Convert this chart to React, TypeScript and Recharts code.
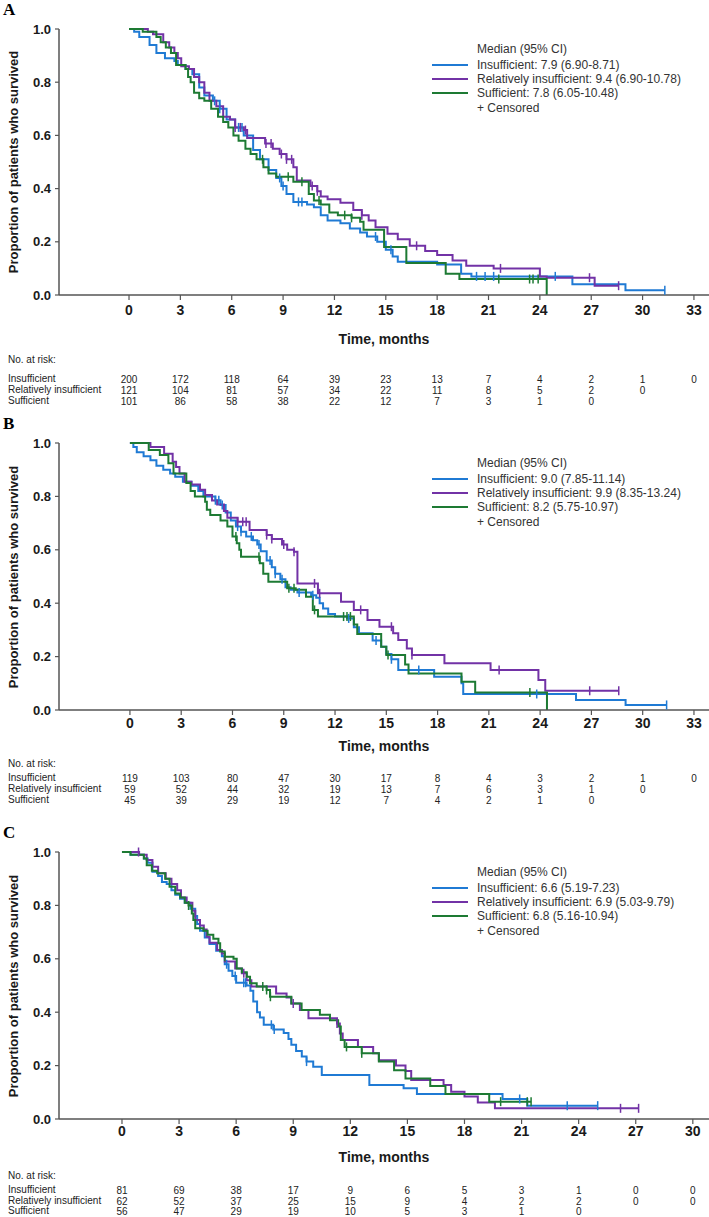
import React from 'react'
import { LineChart, Line, XAxis, YAxis } from 'recharts'

type Pt = [number, number]

const BLUE = '#1f7ad4'
const PURPLE = '#7232a6'
const GREEN = '#1d7a33'
const AXIS = '#555'
const SANS = '"Liberation Sans", Arial, sans-serif'

const TICKS_AB = [0, 3, 6, 9, 12, 15, 18, 21, 24, 27, 30, 33]
const TICKS_C = [0, 3, 6, 9, 12, 15, 18, 21, 24, 27, 30]
const Y_TICKS = [0, 0.2, 0.4, 0.6, 0.8, 1]
const GROUPS = ['Insufficient', 'Relatively insufficient', 'Sufficient']

// ---------- panel A ----------
const insA: Pt[] = [
  [0, 1], [0.3, 0.99], [0.6, 0.97], [1.2, 0.94], [1.6, 0.91], [2.1, 0.89], [2.65, 0.88],
  [2.85, 0.865], [3.3, 0.85], [3.7, 0.83], [4.1, 0.78], [4.4, 0.75], [4.9, 0.73], [5.3, 0.7],
  [5.7, 0.66], [6.2, 0.63], [6.7, 0.6], [7.25, 0.545], [7.65, 0.51], [8.15, 0.47], [8.6, 0.44],
  [8.9, 0.41], [9.2, 0.38], [9.6, 0.35], [10.4, 0.34], [10.8, 0.33], [11.2, 0.3], [11.6, 0.28],
  [12.35, 0.27], [12.9, 0.25], [13.5, 0.235], [13.9, 0.22], [14.5, 0.2], [15.0, 0.17],
  [15.4, 0.145], [15.7, 0.125], [18.0, 0.115], [19.4, 0.08], [20.0, 0.07], [25.9, 0.04],
  [29.0, 0.018], [31.3, 0.018],
]
const insCensA = [5.0, 5.3, 6.4, 6.6, 8.8, 9.0, 9.9, 10.1, 14.4, 15.3, 20.3, 20.8, 21.3, 24.9, 31.3]
const relA: Pt[] = [
  [0, 1], [1.1, 0.99], [1.4, 0.98], [2.0, 0.95], [2.35, 0.93], [2.65, 0.91], [2.85, 0.89],
  [3.05, 0.86], [3.5, 0.85], [3.8, 0.82], [4.1, 0.8], [4.4, 0.76], [4.7, 0.73], [5.1, 0.71],
  [5.5, 0.67], [5.9, 0.66], [6.2, 0.63], [6.7, 0.62], [6.9, 0.59], [7.95, 0.57], [8.4, 0.55],
  [8.8, 0.53], [9.2, 0.51], [9.6, 0.48], [9.8, 0.43], [10.6, 0.41], [11.0, 0.39], [11.2, 0.37],
  [11.6, 0.36], [12.35, 0.347], [13.1, 0.32], [13.6, 0.3], [14.0, 0.28], [14.4, 0.255],
  [15.1, 0.23], [15.7, 0.21], [16.4, 0.185], [17.3, 0.165], [18.0, 0.15], [18.9, 0.13],
  [19.7, 0.11], [21.3, 0.1], [24.0, 0.07], [24.4, 0.065], [27.2, 0.035], [28.6, 0.035],
]
const relCensA = [6.2, 6.5, 6.8, 8.0, 8.3, 8.9, 9.2, 9.5, 10.7, 11.0, 13.6, 16.8, 21.7, 26.9, 28.6]
const sufA: Pt[] = [
  [0, 1], [0.8, 0.99], [1.6, 0.97], [1.85, 0.95], [2.15, 0.93], [2.45, 0.91], [2.75, 0.865],
  [3.3, 0.85], [3.45, 0.82], [3.6, 0.8], [3.8, 0.76], [4.1, 0.74], [4.4, 0.73], [4.8, 0.7],
  [5.2, 0.67], [5.5, 0.65], [5.8, 0.63], [6.1, 0.6], [6.4, 0.58], [6.8, 0.55], [7.1, 0.53],
  [7.45, 0.51], [7.85, 0.48], [8.15, 0.457], [8.6, 0.445], [9.6, 0.426], [10.5, 0.38],
  [10.8, 0.355], [11.2, 0.34], [11.7, 0.31], [12.2, 0.3], [13.0, 0.29], [13.5, 0.275],
  [13.7, 0.245], [14.9, 0.18], [16.2, 0.12], [18.5, 0.08], [19.3, 0.06], [24.4, 0],
]
const sufCensA = [7.8, 9.3, 10.1, 11.1, 12.6, 13.0, 21.6, 23.4, 23.6, 23.9]
const riskInsA = [200, 172, 118, 64, 39, 23, 13, 7, 4, 2, 1, 0]
const riskRelA = [121, 104, 81, 57, 34, 22, 11, 8, 5, 2, 0]
const riskSufA = [101, 86, 58, 38, 22, 12, 7, 3, 1, 0]
const legendA = [
  'Insufficient: 7.9 (6.90-8.71)',
  'Relatively insufficient: 9.4 (6.90-10.78)',
  'Sufficient: 7.8 (6.05-10.48)',
]

// ---------- panel B ----------
const insB: Pt[] = [
  [0, 1], [0.2, 0.985], [0.4, 0.965], [0.8, 0.95], [1.2, 0.935], [1.55, 0.915], [1.95, 0.9],
  [2.35, 0.886], [2.65, 0.874], [3.1, 0.855], [3.6, 0.84], [4.0, 0.82], [4.3, 0.8], [5.0, 0.786],
  [5.3, 0.768], [5.6, 0.74], [5.9, 0.71], [6.2, 0.687], [6.5, 0.668], [6.8, 0.65], [7.2, 0.636],
  [7.45, 0.62], [7.65, 0.595], [8.0, 0.56], [8.3, 0.535], [8.5, 0.51], [8.8, 0.49], [9.1, 0.46],
  [9.4, 0.45], [9.8, 0.44], [10.6, 0.43], [10.9, 0.42], [11.1, 0.4], [11.3, 0.38], [11.6, 0.36],
  [12.0, 0.35], [12.7, 0.343], [13.1, 0.31], [13.4, 0.287], [14.2, 0.26], [14.7, 0.237],
  [15.0, 0.21], [15.3, 0.19], [15.7, 0.15], [17.8, 0.125], [19.4, 0.1], [19.5, 0.06],
  [26.1, 0.037], [29.0, 0.019], [31.4, 0.019],
]
const insCensB = [5.0, 5.2, 5.4, 6.3, 6.5, 7.1, 7.55, 8.2, 8.5, 8.9, 9.9, 10.7, 12.8, 14.4, 15.3, 16.9, 23.8, 31.4]
const relB: Pt[] = [
  [0, 1], [1.2, 0.985], [2.0, 0.96], [2.5, 0.93], [2.7, 0.91], [2.9, 0.886], [3.2, 0.855],
  [3.6, 0.845], [4.1, 0.825], [4.4, 0.805], [4.8, 0.785], [5.1, 0.77], [5.5, 0.745], [5.7, 0.72],
  [6.3, 0.705], [7.0, 0.674], [8.0, 0.655], [8.3, 0.64], [8.9, 0.62], [9.2, 0.6], [9.6, 0.593],
  [9.8, 0.474], [11.0, 0.437], [12.35, 0.405], [13.1, 0.375], [13.9, 0.337], [14.6, 0.312],
  [15.4, 0.287], [15.7, 0.262], [16.2, 0.23], [16.5, 0.206], [18.4, 0.175], [21.1, 0.15],
  [23.9, 0.112], [24.3, 0.072], [28.6, 0.072],
]
const relCensB = [6.3, 6.6, 6.8, 8.0, 8.3, 9.0, 9.6, 10.8, 11.1, 13.5, 15.3, 16.5, 21.6, 26.9, 28.6]
const sufB: Pt[] = [
  [0, 1], [1.1, 0.974], [1.75, 0.955], [2.25, 0.924], [2.55, 0.886], [3.3, 0.85], [3.55, 0.82],
  [3.8, 0.8], [4.4, 0.78], [4.5, 0.75], [4.7, 0.73], [5.3, 0.71], [5.7, 0.687], [6.0, 0.65],
  [6.25, 0.625], [6.4, 0.6], [6.5, 0.574], [7.6, 0.55], [7.8, 0.51], [8.1, 0.48], [9.2, 0.456],
  [9.7, 0.45], [10.3, 0.424], [10.7, 0.375], [11.0, 0.35], [13.1, 0.32], [13.3, 0.285],
  [14.7, 0.237], [15.0, 0.206], [16.1, 0.17], [16.3, 0.137], [19.4, 0.106], [20.2, 0.066],
  [24.4, 0],
]
const sufCensB = [6.2, 7.55, 9.3, 9.6, 10.8, 12.5, 12.7, 12.9, 15.1, 23.4]
const riskInsB = [119, 103, 80, 47, 30, 17, 8, 4, 3, 2, 1, 0]
const riskRelB = [59, 52, 44, 32, 19, 13, 7, 6, 3, 1, 0]
const riskSufB = [45, 39, 29, 19, 12, 7, 4, 2, 1, 0]
const legendB = [
  'Insufficient: 9.0 (7.85-11.14)',
  'Relatively insufficient: 9.9 (8.35-13.24)',
  'Sufficient: 8.2 (5.75-10.97)',
]

// ---------- panel C ----------
const insC: Pt[] = [
  [0, 1], [0.45, 0.99], [1.15, 0.976], [1.35, 0.96], [1.6, 0.926], [1.9, 0.91], [2.1, 0.888],
  [2.35, 0.88], [2.6, 0.857], [2.8, 0.84], [3.05, 0.825], [3.3, 0.81], [3.6, 0.787], [3.85, 0.76],
  [3.95, 0.73], [4.1, 0.705], [4.35, 0.68], [4.6, 0.655], [4.95, 0.63], [5.25, 0.61], [5.4, 0.58],
  [5.6, 0.555], [5.8, 0.536], [6.0, 0.51], [6.55, 0.5], [6.75, 0.48], [6.9, 0.44], [7.1, 0.4],
  [7.25, 0.38], [7.45, 0.353], [7.95, 0.335], [8.5, 0.322], [8.75, 0.3], [8.9, 0.278],
  [9.15, 0.255], [9.45, 0.234], [9.7, 0.215], [10.05, 0.196], [10.5, 0.165], [13.0, 0.127],
  [14.8, 0.115], [15.5, 0.094], [20.0, 0.075], [21.3, 0.05], [25.0, 0.05],
]
const insCensC = [5.5, 5.95, 6.4, 6.5, 7.85, 8.0, 9.7, 20.9, 23.4, 25.0]
const relC: Pt[] = [
  [0, 1], [0.9, 0.99], [1.3, 0.97], [1.6, 0.945], [1.9, 0.92], [2.3, 0.9], [2.6, 0.88],
  [2.9, 0.857], [3.1, 0.83], [3.4, 0.81], [3.7, 0.78], [3.85, 0.745], [4.1, 0.725], [4.3, 0.71],
  [4.45, 0.683], [4.6, 0.66], [5.0, 0.633], [5.25, 0.62], [5.4, 0.59], [5.95, 0.564],
  [6.3, 0.546], [6.55, 0.52], [6.8, 0.496], [8.1, 0.47], [8.65, 0.455], [8.9, 0.433],
  [9.35, 0.408], [9.8, 0.377], [11.3, 0.358], [11.45, 0.32], [11.6, 0.296], [12.4, 0.27],
  [13.2, 0.246], [13.5, 0.22], [14.4, 0.2], [14.9, 0.18], [15.2, 0.146], [16.9, 0.127],
  [17.3, 0.102], [18.0, 0.084], [18.7, 0.062], [19.6, 0.04], [27.15, 0.04],
]
const relCensC = [0.87, 6.4, 9.0, 11.3, 26.2, 27.15]
const sufC: Pt[] = [
  [0, 1], [0.45, 0.99], [1.15, 0.976], [1.3, 0.95], [1.57, 0.93], [1.85, 0.92], [2.27, 0.9],
  [2.5, 0.87], [2.8, 0.845], [3.06, 0.83], [3.3, 0.81], [3.5, 0.8], [3.67, 0.77], [3.75, 0.745],
  [3.85, 0.714], [4.28, 0.705], [4.5, 0.69], [4.8, 0.675], [5.07, 0.658], [5.16, 0.627],
  [5.4, 0.608], [5.86, 0.6], [6.03, 0.564], [6.3, 0.55], [6.56, 0.533], [6.73, 0.508],
  [7.08, 0.496], [7.6, 0.483], [7.78, 0.458], [8.9, 0.433], [9.44, 0.408], [10.4, 0.39],
  [10.93, 0.37], [11.36, 0.346], [11.5, 0.296], [11.7, 0.27], [12.6, 0.246], [13.5, 0.215],
  [14.3, 0.183], [14.9, 0.152], [16.2, 0.124], [17.0, 0.094], [19.3, 0.065], [21.5, 0.065],
]
const sufCensC = [3.5, 5.4, 7.4, 7.6, 7.8, 11.8, 12.6, 19.9, 21.3, 21.5]
const riskInsC = [81, 69, 38, 17, 9, 6, 5, 3, 1, 0, 0]
const riskRelC = [62, 52, 37, 25, 15, 9, 4, 2, 2, 0, 0]
const riskSufC = [56, 47, 29, 19, 10, 5, 3, 1, 0]
const legendC = [
  'Insufficient: 6.6 (5.19-7.23)',
  'Relatively insufficient: 6.9 (5.03-9.79)',
  'Sufficient: 6.8 (5.16-10.94)',
]

// merge step points and censor marks into one series
function kmData(steps: Pt[], cens: number[]) {
  const pts: { t: number; s: number; c?: boolean }[] = steps.map(([t, s]) => ({ t, s }))
  cens.forEach((ct) => {
    let lvl = steps[0][1]
    steps.forEach(([t, s]) => {
      if (t <= ct) lvl = s
    })
    pts.push({ t: ct, s: lvl, c: true })
  })
  return pts.sort((a, b) => a.t - b.t)
}

const censorDot = (color: string) => (p: any) => {
  const { cx, cy, payload, index } = p
  if (!payload || !payload.c || cx == null) return <g key={index} />
  return <line key={index} x1={cx} x2={cx} y1={cy - 4.5} y2={cy + 4.5} stroke={color} strokeWidth={1.5} />
}

interface PanelProps {
  letter: string
  top: number
  height: number
  plotTop: number
  plotBottom: number
  domain: [number, number]
  ticks: number[]
  series: { data: Pt[]; cens: number[]; color: string }[]
  risk: number[][]
  legend: string[]
  tickDy: number
  timeDy: number
  headDy: number
  rowDy: number[]
}

function Txt({ x, y, children, style, center }: any) {
  return (
    <div
      style={{
        position: 'absolute',
        left: x,
        top: y,
        transform: center ? 'translate(-50%, -50%)' : 'translateY(-50%)',
        whiteSpace: 'nowrap',
        lineHeight: 1,
        pointerEvents: 'none',
        ...style,
      }}
    >
      {children}
    </div>
  )
}

function Panel(props: PanelProps) {
  const { letter, top, height, plotTop, plotBottom, domain, ticks, series, risk, legend } = props
  const axisY = plotBottom - top
  const xAxisHeight = height - axisY

  const renderTick = (p: any) => {
    const { x, payload } = p
    const i = ticks.indexOf(payload.value)
    return (
      <g>
        <text
          x={x}
          y={axisY + props.tickDy}
          textAnchor="middle"
          dominantBaseline="central"
          fill="#1a1a1a"
          style={{ fontFamily: SANS, fontSize: 14, fontWeight: 'bold' }}
        >
          {payload.value}
        </text>
        {risk.map((row, r) =>
          row[i] === undefined ? null : (
            <text
              key={r}
              x={x}
              y={axisY + props.rowDy[r]}
              textAnchor="middle"
              dominantBaseline="central"
              fill="#222"
              style={{ fontFamily: SANS, fontSize: 10 }}
            >
              {row[i]}
            </text>
          ),
        )}
      </g>
    )
  }

  const lt = plotTop - top
  const legendRows = [20, 36, 50, 64, 79]
  const colors = [BLUE, PURPLE, GREEN]

  return (
    <div style={{ position: 'absolute', left: 0, top, width: 709, height }}>
      <LineChart width={709} height={height} margin={{ top: lt, right: 0, left: 0, bottom: 0 }}>
        <XAxis
          type="number"
          dataKey="t"
          domain={domain}
          ticks={ticks}
          allowDataOverflow
          height={xAxisHeight}
          axisLine={{ stroke: AXIS, strokeWidth: 1.5 }}
          tickLine={{ stroke: AXIS, strokeWidth: 1.2 }}
          tickSize={5}
          tick={renderTick}
          interval={0}
        />
        <YAxis
          type="number"
          domain={[0, 1]}
          ticks={Y_TICKS}
          width={59}
          tickFormatter={(v: number) => v.toFixed(1)}
          axisLine={{ stroke: AXIS, strokeWidth: 1.5 }}
          tickLine={{ stroke: AXIS, strokeWidth: 1.2 }}
          tickSize={4}
          tickMargin={4}
          tick={{ fill: '#1a1a1a', fontSize: 13, fontWeight: 'bold', fontFamily: SANS }}
        />
        {series.map((s, k) => (
          <Line
            key={k}
            data={kmData(s.data, s.cens)}
            dataKey="s"
            type="stepAfter"
            stroke={s.color}
            strokeWidth={2}
            dot={censorDot(s.color)}
            activeDot={false}
            isAnimationActive={false}
          />
        ))}
      </LineChart>

      <Txt x={3} y={lt - 20} style={{ fontFamily: '"Liberation Serif", serif', fontWeight: 'bold', fontSize: 17 }}>
        {letter}
      </Txt>
      <Txt
        x={13}
        y={lt + (plotBottom - plotTop) / 2}
        style={{ fontFamily: SANS, fontWeight: 'bold', fontSize: 13, color: '#1a1a1a', transform: 'translate(-50%, -50%) rotate(-90deg)' }}
      >
        Proportion of patients who survived
      </Txt>
      <Txt x={384} y={axisY + props.timeDy} center style={{ fontFamily: SANS, fontWeight: 'bold', fontSize: 14, color: '#1a1a1a' }}>
        Time, months
      </Txt>
      <Txt x={8} y={axisY + props.headDy} style={{ fontFamily: SANS, fontSize: 10, color: '#222' }}>
        No. at risk:
      </Txt>
      {GROUPS.map((g, r) => (
        <Txt key={g} x={8} y={axisY + props.rowDy[r]} style={{ fontFamily: SANS, fontSize: 10, color: '#222' }}>
          {g}
        </Txt>
      ))}

      <Txt x={477} y={lt + legendRows[0]} style={{ fontFamily: SANS, fontSize: 12, color: '#333' }}>
        Median (95% CI)
      </Txt>
      {legend.map((txt, r) => (
        <React.Fragment key={txt}>
          <div
            style={{
              position: 'absolute',
              left: 432,
              top: lt + legendRows[r + 1] - 1,
              width: 36,
              height: 2,
              background: colors[r],
            }}
          />
          <Txt x={477} y={lt + legendRows[r + 1]} style={{ fontFamily: SANS, fontSize: 12, color: '#333' }}>
            {txt}
          </Txt>
        </React.Fragment>
      ))}
      <Txt x={477} y={lt + legendRows[4]} style={{ fontFamily: SANS, fontSize: 12, color: '#333' }}>
        + Censored
      </Txt>
    </div>
  )
}

export default function App() {
  return (
    <div style={{ position: 'absolute', left: 0, top: 0, width: 709, height: 1217, background: '#fff', overflow: 'hidden' }}>
      <Panel
        letter="A"
        top={0}
        height={412}
        plotTop={29}
        plotBottom={295}
        domain={[-4.09, 33.88]}
        ticks={TICKS_AB}
        series={[
          { data: insA, cens: insCensA, color: BLUE },
          { data: relA, cens: relCensA, color: PURPLE },
          { data: sufA, cens: sufCensA, color: GREEN },
        ]}
        risk={[riskInsA, riskRelA, riskSufA]}
        legend={legendA}
        tickDy={15}
        timeDy={44}
        headDy={65}
        rowDy={[84, 95, 106]}
      />
      <Panel
        letter="B"
        top={413}
        height={405}
        plotTop={443}
        plotBottom={710}
        domain={[-4.15, 33.88]}
        ticks={TICKS_AB}
        series={[
          { data: insB, cens: insCensB, color: BLUE },
          { data: relB, cens: relCensB, color: PURPLE },
          { data: sufB, cens: sufCensB, color: GREEN },
        ]}
        risk={[riskInsB, riskRelB, riskSufB]}
        legend={legendB}
        tickDy={13}
        timeDy={36}
        headDy={54}
        rowDy={[68, 79, 90]}
      />
      <Panel
        letter="C"
        top={822}
        height={395}
        plotTop={852}
        plotBottom={1119}
        domain={[-3.31, 30.85]}
        ticks={TICKS_C}
        series={[
          { data: insC, cens: insCensC, color: BLUE },
          { data: relC, cens: relCensC, color: PURPLE },
          { data: sufC, cens: sufCensC, color: GREEN },
        ]}
        risk={[riskInsC, riskRelC, riskSufC]}
        legend={legendC}
        tickDy={12}
        timeDy={38}
        headDy={57}
        rowDy={[71, 82, 92]}
      />
    </div>
  )
}
